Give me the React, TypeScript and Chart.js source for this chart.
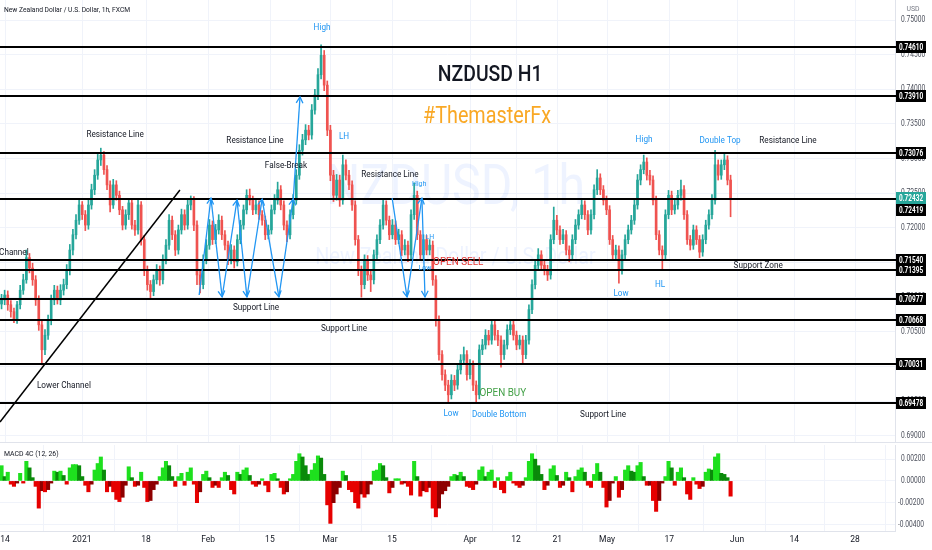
import React, { useEffect, useRef } from 'react';
import { Chart, registerables } from 'chart.js';

Chart.register(...registerables);

// ---------- data ----------
const firstOpen = 0.7090;
const closes = [
  0.7096,0.7103,0.7089,0.7079,0.7067,0.7089,0.7110,0.7125,0.7157,0.7142,
  0.7125,0.7096,0.7060,0.7024,0.7045,0.7067,0.7096,0.7110,0.7096,0.7110,
  0.7118,0.7139,0.7168,0.7190,0.7211,0.7233,0.7219,0.7204,0.7233,0.7255,
  0.7276,0.7298,0.7305,0.7284,0.7262,0.7233,0.7262,0.7247,0.7226,0.7204,
  0.7219,0.7236,0.7204,0.7197,0.7233,0.7183,0.7139,0.7118,0.7108,0.7125,
  0.7139,0.7125,0.7154,0.7175,0.7211,0.7190,0.7168,0.7197,0.7219,0.7204,
  0.7233,0.7240,0.7204,0.7132,0.7118,0.7154,0.7175,0.7204,0.7183,0.7197,
  0.7211,0.7190,0.7175,0.7154,0.7168,0.7151,0.7183,0.7204,0.7226,0.7247,
  0.7240,0.7226,0.7233,0.7219,0.7211,0.7190,0.7197,0.7226,0.7240,0.7255,
  0.7233,0.7204,0.7190,0.7219,0.7240,0.7276,0.7312,0.7327,0.7341,0.7334,
  0.7370,0.7392,0.7421,0.7449,0.7406,0.7341,0.7276,0.7247,0.7269,0.7240,
  0.7291,0.7276,0.7262,0.7233,0.7183,0.7139,0.7118,0.7154,0.7132,0.7125,
  0.7161,0.7183,0.7204,0.7233,0.7211,0.7190,0.7204,0.7183,0.7190,0.7168,
  0.7175,0.7161,0.7219,0.7247,0.7190,0.7161,0.7183,0.7168,0.7175,0.7125,
  0.7067,0.7017,0.6988,0.6973,0.6959,0.6980,0.6973,0.6995,0.7009,0.7017,
  0.6988,0.7002,0.6973,0.6959,0.7024,0.7031,0.7045,0.7038,0.7060,0.7045,
  0.7038,0.7017,0.7031,0.7053,0.7060,0.7045,0.7031,0.7038,0.7017,0.7038,
  0.7082,0.7118,0.7146,0.7161,0.7146,0.7139,0.7132,0.7183,0.7211,0.7197,
  0.7183,0.7190,0.7168,0.7161,0.7183,0.7204,0.7219,0.7233,0.7219,0.7197,
  0.7219,0.7255,0.7272,0.7255,0.7240,0.7226,0.7183,0.7161,0.7168,0.7139,
  0.7161,0.7183,0.7197,0.7211,0.7233,0.7269,0.7284,0.7295,0.7276,0.7269,
  0.7240,0.7190,0.7168,0.7161,0.7219,0.7247,0.7226,0.7233,0.7247,0.7255,
  0.7219,0.7183,0.7175,0.7197,0.7183,0.7165,0.7183,0.7204,0.7219,0.7240,
  0.7291,0.7276,0.7291,0.7298,0.7269,0.72432,
];
const highs = [
  0.7104,0.7110,0.7109,0.7095,0.7084,0.7094,0.7117,0.7133,0.7168,0.7163,
  0.7149,0.7131,0.7102,0.7066,0.7053,0.7074,0.7103,0.7117,0.7116,0.7118,
  0.7126,0.7147,0.7176,0.7198,0.7219,0.7240,0.7238,0.7225,0.7240,0.7263,
  0.7284,0.7306,0.7315,0.7310,0.7290,0.7268,0.7270,0.7268,0.7253,0.7231,
  0.7226,0.7242,0.7241,0.7211,0.7240,0.7238,0.7189,0.7145,0.7124,0.7132,
  0.7147,0.7145,0.7161,0.7183,0.7219,0.7217,0.7196,0.7204,0.7227,0.7226,
  0.7240,0.7246,0.7245,0.7210,0.7138,0.7161,0.7183,0.7212,0.7210,0.7205,
  0.7219,0.7217,0.7196,0.7181,0.7176,0.7174,0.7190,0.7211,0.7233,0.7255,
  0.7256,0.7246,0.7240,0.7239,0.7225,0.7217,0.7204,0.7233,0.7248,0.7266,
  0.7261,0.7239,0.7210,0.7226,0.7248,0.7284,0.7320,0.7335,0.7349,0.7348,
  0.7378,0.7400,0.7430,0.7464,0.7456,0.7412,0.7348,0.7283,0.7277,0.7276,
  0.7305,0.7298,0.7283,0.7268,0.7239,0.7189,0.7145,0.7161,0.7160,0.7140,
  0.7168,0.7190,0.7212,0.7240,0.7239,0.7217,0.7212,0.7210,0.7198,0.7196,
  0.7183,0.7181,0.7226,0.7265,0.7253,0.7196,0.7190,0.7189,0.7183,0.7181,
  0.7131,0.7073,0.7023,0.6995,0.6980,0.6988,0.6987,0.7002,0.7017,0.7028,
  0.7023,0.7010,0.7008,0.6979,0.7031,0.7039,0.7053,0.7052,0.7067,0.7066,
  0.7052,0.7044,0.7038,0.7060,0.7067,0.7066,0.7051,0.7045,0.7044,0.7045,
  0.7089,0.7125,0.7154,0.7170,0.7167,0.7152,0.7146,0.7190,0.7230,0.7218,
  0.7203,0.7198,0.7196,0.7174,0.7190,0.7212,0.7226,0.7240,0.7239,0.7225,
  0.7226,0.7262,0.7284,0.7278,0.7261,0.7246,0.7232,0.7189,0.7175,0.7174,
  0.7168,0.7190,0.7204,0.7218,0.7240,0.7277,0.7291,0.7305,0.7301,0.7283,
  0.7275,0.7246,0.7196,0.7174,0.7226,0.7254,0.7253,0.7240,0.7254,0.7269,
  0.7261,0.7225,0.7189,0.7204,0.7203,0.7189,0.7190,0.7211,0.7226,0.7248,
  0.7312,0.7298,0.7298,0.7308,0.7304,0.7276,
];
const lows = [
  0.7083,0.7089,0.7081,0.7071,0.7063,0.7062,0.7083,0.7104,0.7120,0.7135,
  0.7117,0.7088,0.7052,0.7002,0.7017,0.7039,0.7060,0.7089,0.7090,0.7089,
  0.7103,0.7112,0.7132,0.7161,0.7184,0.7205,0.7212,0.7196,0.7198,0.7227,
  0.7248,0.7270,0.7290,0.7277,0.7255,0.7223,0.7228,0.7240,0.7219,0.7197,
  0.7198,0.7212,0.7198,0.7189,0.7191,0.7175,0.7131,0.7110,0.7099,0.7102,
  0.7119,0.7117,0.7119,0.7148,0.7169,0.7183,0.7160,0.7162,0.7191,0.7197,
  0.7198,0.7226,0.7196,0.7118,0.7106,0.7112,0.7148,0.7169,0.7176,0.7177,
  0.7191,0.7183,0.7168,0.7147,0.7148,0.7142,0.7145,0.7177,0.7198,0.7220,
  0.7233,0.7219,0.7220,0.7212,0.7204,0.7183,0.7184,0.7191,0.7220,0.7234,
  0.7226,0.7197,0.7180,0.7184,0.7213,0.7234,0.7270,0.7305,0.7320,0.7327,
  0.7328,0.7364,0.7385,0.7415,0.7398,0.7333,0.7268,0.7238,0.7240,0.7231,
  0.7234,0.7269,0.7255,0.7225,0.7175,0.7131,0.7100,0.7112,0.7124,0.7108,
  0.7119,0.7155,0.7177,0.7198,0.7204,0.7183,0.7184,0.7176,0.7177,0.7160,
  0.7161,0.7151,0.7155,0.7212,0.7183,0.7153,0.7155,0.7161,0.7161,0.7117,
  0.7058,0.7009,0.6980,0.6965,0.6949,0.6953,0.6965,0.6967,0.6989,0.7003,
  0.6980,0.6982,0.6965,0.6948,0.6953,0.7017,0.7025,0.7031,0.7032,0.7038,
  0.7030,0.6999,0.7010,0.7025,0.7046,0.7038,0.7024,0.7025,0.7005,0.7011,
  0.7032,0.7076,0.7112,0.7140,0.7139,0.7132,0.7124,0.7126,0.7177,0.7190,
  0.7176,0.7177,0.7161,0.7151,0.7155,0.7177,0.7198,0.7213,0.7212,0.7190,
  0.7191,0.7213,0.7248,0.7248,0.7233,0.7219,0.7176,0.7154,0.7155,0.7120,
  0.7133,0.7155,0.7177,0.7191,0.7205,0.7227,0.7262,0.7278,0.7269,0.7262,
  0.7233,0.7183,0.7161,0.7139,0.7155,0.7213,0.7219,0.7220,0.7227,0.7240,
  0.7212,0.7176,0.7168,0.7169,0.7176,0.7157,0.7159,0.7177,0.7198,0.7213,
  0.7234,0.7269,0.7270,0.7284,0.7262,0.7216,
];
const macdHist = [
  0.0014,0.0004,0.0008,-0.0003,-0.0005,-0.0002,0.0007,-0.0002,0.0018,0.0012,
  0.0003,-0.0005,-0.0025,-0.0009,-0.0010,-0.0008,-0.0002,0.0009,0.0008,0.0009,
  0.0005,-0.0003,0.0012,0.0015,0.0015,0.0014,0.0004,-0.0004,-0.0010,-0.0003,
  0.0010,0.0016,0.0022,0.0010,-0.0010,-0.0005,-0.0010,-0.0017,-0.0019,-0.0015,
  -0.0004,0.0013,0.0003,-0.0005,-0.0004,0.0008,-0.0006,-0.0019,-0.0018,-0.0008,
  -0.0003,0.0004,0.0012,0.0018,0.0014,0.0004,-0.0005,0.0004,0.0007,-0.0004,
  0.0008,0.0012,-0.0003,-0.0020,-0.0010,0.0006,0.0009,0.0003,-0.0006,-0.0004,
  -0.0006,0.0003,0.0008,0.0005,-0.0008,-0.0012,0.0008,0.0006,0.0010,0.0012,
  0.0005,-0.0003,-0.0005,-0.0003,0.0002,-0.0004,-0.0010,0.0006,0.0007,0.0002,
  -0.0006,-0.0012,-0.0010,0.0002,0.0006,0.0018,0.0025,0.0022,0.0014,0.0006,
  0.0010,0.0016,0.0023,0.0021,0.0006,-0.0022,-0.0039,-0.0020,-0.0012,-0.0006,
  0.0009,0.0005,-0.0008,-0.0010,-0.0020,-0.0025,-0.0012,-0.0015,-0.0012,-0.0003,
  0.0009,0.0010,0.0016,0.0014,0.0003,-0.0011,-0.0006,0.0002,0.0002,-0.0003,
  -0.0002,-0.0005,-0.0013,0.0018,0.0004,-0.0014,-0.0009,-0.0010,-0.0006,-0.0025,
  -0.0033,-0.0025,-0.0012,-0.0009,-0.0005,0.0004,0.0006,0.0005,0.0008,0.0004,
  -0.0005,-0.0006,-0.0008,-0.0003,0.0010,0.0013,0.0004,0.0008,0.0010,-0.0006,
  0.0003,-0.0008,-0.0011,0.0004,0.0008,-0.0002,-0.0004,-0.0006,-0.0004,0.0003,
  0.0018,0.0025,0.0020,0.0014,0.0006,-0.0008,-0.0004,0.0011,0.0014,0.0005,
  -0.0006,-0.0004,0.0008,0.0003,-0.0010,0.0004,0.0010,0.0012,0.0008,-0.0004,
  -0.0006,0.0006,0.0016,0.0008,-0.0006,-0.0024,-0.0018,-0.0002,0.0004,-0.0015,
  -0.0008,0.0010,0.0014,0.0009,0.0008,0.0014,0.0017,0.0004,-0.0004,-0.0004,
  -0.0018,-0.0028,-0.0018,-0.0002,0.0004,0.0018,0.0012,-0.0004,0.0008,0.0012,
  0.0003,-0.0012,-0.0017,0.0003,-0.0003,-0.0007,-0.0005,0.0008,0.0011,0.0010,
  0.0022,0.0025,0.0007,0.0006,0.0003,-0.0014,
];

const xTickPos = [1.1, 25.9, 46.6, 66.6, 86.5, 105.9, 125.9, 151.0, 165.8, 179.1, 195.2, 215.2, 237.1, 255.5, 275.1];
const xTickLabels = ['14', '2021', '18', 'Feb', '15', 'Mar', '15', 'Apr', '12', '21', 'May', '17', 'Jun', '14', '28'];
const priceTicks = [0.69, 0.695, 0.70, 0.705, 0.71, 0.715, 0.72, 0.725, 0.73, 0.735, 0.74, 0.745, 0.75];
const macdTicks = [0.002, 0, -0.002, -0.004];
const priceLevels = [0.74610, 0.73910, 0.73076, 0.72419, 0.71540, 0.71395, 0.70977, 0.70668, 0.70031, 0.69478];
const lastPrice = 0.72432;

const BLUE = '#2196f3';
const DARK = '#131722';
const notes = [
  { t: 'High', x: 103.3, p: 0.74885, c: BLUE, s: 9.5 },
  { t: 'NZDUSD H1', x: 157.5, p: 0.74206, c: DARK, s: 22.5, w: '500' },
  { t: '#ThemasterFx', x: 156.5, p: 0.73600, c: '#f9a825', s: 23 },
  { t: 'Resistance Line', x: 36.6, p: 0.73340, c: DARK, s: 9.5 },
  { t: 'Resistance Line', x: 81.7, p: 0.73254, c: DARK, s: 9.5 },
  { t: 'LH', x: 110.4, p: 0.73311, c: BLUE, s: 9.5 },
  { t: 'High', x: 207.1, p: 0.73268, c: BLUE, s: 9.5 },
  { t: 'Double Top', x: 231.6, p: 0.73254, c: BLUE, s: 9.5 },
  { t: 'Resistance Line', x: 253.5, p: 0.73254, c: DARK, s: 9.5 },
  { t: 'False-Break', x: 91.7, p: 0.72893, c: DARK, s: 9.5 },
  { t: 'Resistance Line', x: 125.2, p: 0.72763, c: DARK, s: 9.5 },
  { t: 'High', x: 134.6, p: 0.72633, c: BLUE, s: 8 },
  { t: 'Channel', x: -0.8, p: 0.71637, c: DARK, s: 9.5, a: 'left' },
  { t: 'LH', x: 138.1, p: 0.71868, c: BLUE, s: 8 },
  { t: 'Low', x: 136.5, p: 0.71420, c: BLUE, s: 8 },
  { t: 'OPEN SELL', x: 139.1, p: 0.71507, c: '#e53935', s: 11.5, a: 'left' },
  { t: 'Support Zone', x: 243.9, p: 0.71449, c: DARK, s: 9.5 },
  { t: 'Low', x: 199.7, p: 0.71045, c: BLUE, s: 9.5 },
  { t: 'HL', x: 212.3, p: 0.71175, c: BLUE, s: 9.5 },
  { t: 'Support Line', x: 82.0, p: 0.70843, c: DARK, s: 9.5 },
  { t: 'Support Line', x: 110.4, p: 0.70540, c: DARK, s: 9.5 },
  { t: 'Lower Channel', x: 20.1, p: 0.69717, c: DARK, s: 9.5 },
  { t: 'OPEN BUY', x: 161.6, p: 0.69616, c: '#43a047', s: 11.5 },
  { t: 'Low', x: 144.9, p: 0.69313, c: BLUE, s: 9.5 },
  { t: 'Double Bottom', x: 160.4, p: 0.69299, c: BLUE, s: 9.5 },
  { t: 'Support Line', x: 193.9, p: 0.69299, c: DARK, s: 9.5 },
];
const trendLines = [[-0.5, 0.69198, 57.5, 0.72546]];
const arrows = [
  [63.7, 0.71031, 67.5, 0.72431],
  [67.5, 0.72431, 71.1, 0.71002],
  [71.1, 0.71002, 75.9, 0.72402],
  [75.9, 0.72402, 79.1, 0.71002],
  [79.1, 0.71002, 84.0, 0.72416],
  [84.0, 0.72416, 89.4, 0.71002],
  [89.4, 0.71002, 94.0, 0.72416],
  [94.0, 0.72402, 96.2, 0.73889],
  [125.9, 0.72431, 130.7, 0.71002],
  [130.7, 0.71002, 135.5, 0.72431],
  [135.5, 0.72431, 136.5, 0.71002],
];

// ---------- layout / style ----------
const W = 932;
const H = 550;
const MAIN_H = 443;
const SUB_H = H - MAIN_H;
const AXIS_W = 37;
const X_MIN = -0.5;
const X_MAX = 288;
const P_MIN = 0.688943;
const P_MAX = 0.752887;
const M_MIN = -0.0046;
const M_MAX = 0.0033;
const UP = '#26a69a';
const DOWN = '#ef5350';
const GRID = '#f0f3fa';
const BORDER = '#e0e3eb';
const FONT = 'Roboto, "Liberation Sans", sans-serif';
const SX = 0.86;

function drawText(ctx: any, t: string, x: number, y: number, size: number, color: string, align = 'center', weight = '', sx = SX) {
  ctx.save();
  ctx.translate(x, y);
  ctx.scale(sx, 1);
  ctx.font = `${weight} ${size}px ${FONT}`;
  ctx.fillStyle = color;
  ctx.textAlign = align;
  ctx.textBaseline = 'middle';
  ctx.fillText(t, 0, 0);
  ctx.restore();
}

function arrowHead(ctx: any, x1: number, y1: number, x2: number, y2: number, size: number) {
  const a = Math.atan2(y2 - y1, x2 - x1);
  ctx.beginPath();
  ctx.moveTo(x2 - size * Math.cos(a - 0.5), y2 - size * Math.sin(a - 0.5));
  ctx.lineTo(x2, y2);
  ctx.lineTo(x2 - size * Math.cos(a + 0.5), y2 - size * Math.sin(a + 0.5));
  ctx.stroke();
}

// tick labels of a right-hand value axis, drawn from the axis' own ticks
function drawAxisLabels(chart: any, scaleId: string) {
  const { ctx, chartArea: a } = chart;
  const s = chart.scales[scaleId];
  s.ticks.forEach((t: any) => {
    const py = s.getPixelForValue(t.value);
    const txt = Number(t.value).toFixed(5);
    const neg = txt.startsWith('-');
    drawText(ctx, txt, a.right + (neg ? 3 : 6), py, 8.5, '#4a4e5a', 'left', '', 0.78);
  });
}

const mainPlugin = {
  id: 'mainDeco',
  beforeDatasetsDraw(chart: any) {
    const { ctx, chartArea: a, scales } = chart;
    const x = scales.x;
    ctx.save();
    ctx.strokeStyle = GRID;
    ctx.lineWidth = 1;
    xTickPos.forEach((v) => {
      const px = Math.round(x.getPixelForValue(v)) + 0.5;
      ctx.beginPath();
      ctx.moveTo(px, a.top);
      ctx.lineTo(px, a.bottom);
      ctx.stroke();
    });
    const cx = (a.left + a.right) / 2 + 8;
    const cy = (a.top + a.bottom) / 2;
    drawText(ctx, 'NZDUSD, 1h', cx, cy - 32, 56, 'rgba(41,98,255,0.08)');
    drawText(ctx, 'New Zealand Dollar / U.S. Dollar', cx, cy + 37, 23, 'rgba(41,98,255,0.08)');
    ctx.restore();
  },
  afterDatasetsDraw(chart: any) {
    const { ctx, chartArea: a, scales } = chart;
    const x = scales.x;
    const y = scales.y;
    ctx.save();
    ctx.strokeStyle = '#000';
    ctx.lineWidth = 2;
    priceLevels.forEach((p) => {
      const py = Math.round(y.getPixelForValue(p));
      ctx.beginPath();
      ctx.moveTo(a.left, py);
      ctx.lineTo(a.right + 2, py);
      ctx.stroke();
    });
    ctx.lineWidth = 1.5;
    trendLines.forEach(([x1, p1, x2, p2]) => {
      ctx.beginPath();
      ctx.moveTo(x.getPixelForValue(x1), y.getPixelForValue(p1));
      ctx.lineTo(x.getPixelForValue(x2), y.getPixelForValue(p2));
      ctx.stroke();
    });
    ctx.strokeStyle = BLUE;
    ctx.lineWidth = 1.3;
    arrows.forEach(([x1, p1, x2, p2]) => {
      const X1 = x.getPixelForValue(x1), Y1 = y.getPixelForValue(p1);
      const X2 = x.getPixelForValue(x2), Y2 = y.getPixelForValue(p2);
      ctx.beginPath();
      ctx.moveTo(X1, Y1);
      ctx.lineTo(X2, Y2);
      ctx.stroke();
      arrowHead(ctx, X1, Y1, X2, Y2, 7);
    });
    notes.forEach((n: any) => {
      drawText(ctx, n.t, x.getPixelForValue(n.x), y.getPixelForValue(n.p), n.s, n.c, n.a || 'center', n.w || '');
    });
    ctx.restore();
  },
  afterDraw(chart: any) {
    const { ctx, chartArea: a, scales } = chart;
    const y = scales.y;
    ctx.save();
    ctx.strokeStyle = BORDER;
    ctx.lineWidth = 1;
    ctx.beginPath();
    ctx.moveTo(0, MAIN_H - 0.5);
    ctx.lineTo(W, MAIN_H - 0.5);
    ctx.stroke();
    drawAxisLabels(chart, 'y');
    const box = (py: number, text: string, bg: string) => {
      ctx.fillStyle = bg;
      ctx.fillRect(a.right + 1, py - 6, 30, 12);
      drawText(ctx, text, a.right + 4, py + 0.5, 8.5, '#fff', 'left', 'bold', 0.76);
    };
    const yLast = Math.round(y.getPixelForValue(lastPrice));
    priceLevels.forEach((p) => {
      let py = Math.round(y.getPixelForValue(p));
      if (Math.abs(py - yLast) < 11) py = yLast + 12;
      box(py, p.toFixed(5), '#000');
    });
    box(yLast, lastPrice.toFixed(5), UP);
    drawText(ctx, 'New Zealand Dollar / U.S. Dollar, 1h, FXCM', 4, 10, 7.8, DARK, 'left');
    drawText(ctx, 'USD', 913, 9, 8, '#787b86');
    ctx.restore();
  },
};

const subPlugin = {
  id: 'subDeco',
  afterDraw(chart: any) {
    const { ctx } = chart;
    drawAxisLabels(chart, 'y');
    drawText(ctx, 'MACD 4C (12, 26)', 4, 11, 8, DARK, 'left');
  },
};

export default function App() {
  const mainRef = useRef<HTMLCanvasElement | null>(null);
  const subRef = useRef<HTMLCanvasElement | null>(null);

  useEffect(() => {
    document.body.style.margin = '0';
    const opens = closes.map((c, i) => (i === 0 ? firstOpen : closes[i - 1]));
    const candleColors = closes.map((c, i) => (c >= opens[i] ? UP : DOWN));
    const wickData = closes.map((c, i) => ({ x: i, y: [lows[i], highs[i]] }));
    const bodyData = closes.map((c, i) => ({ x: i, y: [opens[i], c] }));

    const main = new Chart(mainRef.current as any, {
      type: 'bar',
      data: {
        datasets: [
          { label: 'wick', data: wickData as any, backgroundColor: candleColors, barThickness: 1, grouped: false, order: 2, borderWidth: 0 } as any,
          { label: 'body', data: bodyData as any, backgroundColor: candleColors, barThickness: 2, grouped: false, order: 1, minBarLength: 1, borderWidth: 0 } as any,
        ],
      },
      options: {
        animation: false,
        responsive: false,
        maintainAspectRatio: false,
        devicePixelRatio: 1,
        layout: { padding: 0 },
        plugins: { legend: { display: false }, tooltip: { enabled: false } },
        scales: {
          x: { type: 'linear', min: X_MIN, max: X_MAX, display: false, offset: false },
          y: {
            position: 'right',
            min: P_MIN,
            max: P_MAX,
            afterBuildTicks: (s: any) => { s.ticks = priceTicks.map((v) => ({ value: v })); },
            afterFit: (s: any) => { s.width = AXIS_W; s.paddingTop = 0; s.paddingBottom = 0; },
            ticks: { display: false },
            grid: { color: GRID, drawTicks: false },
            border: { color: BORDER },
          },
        },
      } as any,
      plugins: [mainPlugin],
    });

    const macdColors = macdHist.map((v, i) => {
      const prev = i ? macdHist[i - 1] : 0;
      if (v >= 0) return v >= prev ? '#1ee01e' : '#0a8a0a';
      return v < prev ? '#e60000' : '#8e0000';
    });

    const sub = new Chart(subRef.current as any, {
      type: 'bar',
      data: {
        datasets: [
          { label: 'MACD', data: macdHist.map((v, i) => ({ x: i, y: v })) as any, backgroundColor: macdColors, barThickness: 3.4, grouped: false, borderWidth: 0 } as any,
        ],
      },
      options: {
        animation: false,
        responsive: false,
        maintainAspectRatio: false,
        devicePixelRatio: 1,
        layout: { padding: { top: 2, left: 0, right: 0, bottom: 0 } },
        plugins: { legend: { display: false }, tooltip: { enabled: false } },
        scales: {
          x: {
            type: 'linear', min: X_MIN, max: X_MAX, offset: false,
            afterBuildTicks: (s: any) => { s.ticks = xTickPos.map((v) => ({ value: v })); },
            afterFit: (s: any) => { s.height = 19; s.paddingLeft = 0; s.paddingRight = 0; },
            ticks: { autoSkip: false, maxRotation: 0, padding: 4, color: DARK, font: { size: 8.5, family: 'Roboto' }, callback: (v: any, i: number) => xTickLabels[i] },
            grid: { color: GRID, drawTicks: false },
            border: { color: BORDER },
          },
          y: {
            position: 'right', min: M_MIN, max: M_MAX,
            afterBuildTicks: (s: any) => { s.ticks = macdTicks.map((v) => ({ value: v })); },
            afterFit: (s: any) => { s.width = AXIS_W; s.paddingTop = 0; s.paddingBottom = 0; },
            ticks: { display: false },
            grid: { color: GRID, drawTicks: false },
            border: { color: BORDER },
          },
        },
      } as any,
      plugins: [subPlugin],
    });

    return () => {
      main.destroy();
      sub.destroy();
    };
  }, []);

  return (
    <div style={{ position: 'absolute', left: 0, top: 0, width: W, height: H, background: '#fff' }}>
      <canvas ref={mainRef} width={W} height={MAIN_H} style={{ position: 'absolute', left: 0, top: 0, width: W, height: MAIN_H }} />
      <canvas ref={subRef} width={W} height={SUB_H} style={{ position: 'absolute', left: 0, top: MAIN_H, width: W, height: SUB_H }} />
    </div>
  );
}
